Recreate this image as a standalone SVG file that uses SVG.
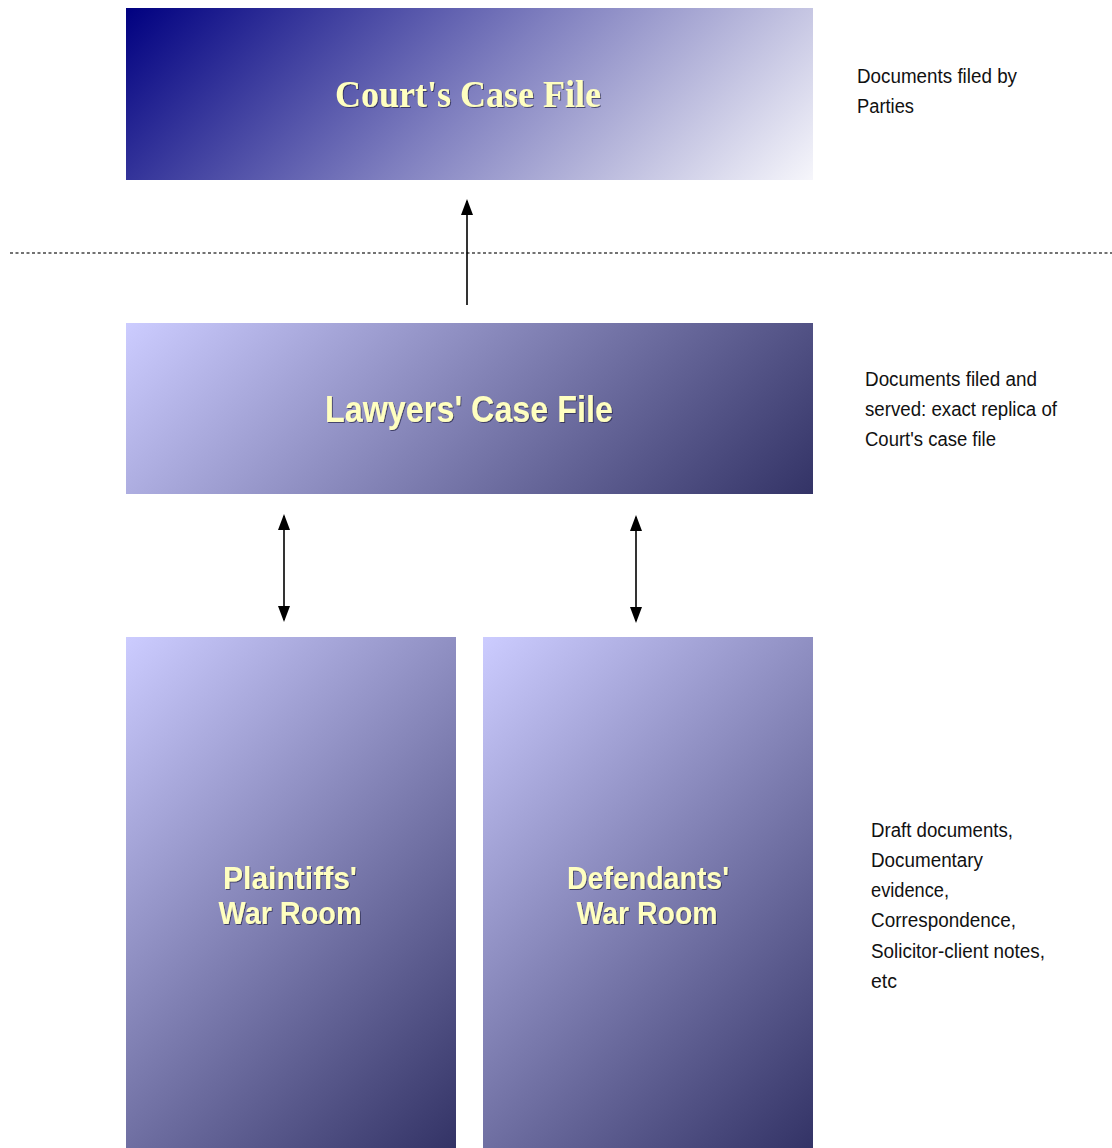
<svg xmlns="http://www.w3.org/2000/svg" width="1112" height="1148" viewBox="0 0 1112 1148">
<defs>
<linearGradient id="gCourt" gradientUnits="userSpaceOnUse" x1="126" y1="8" x2="555.5" y2="437.5">
<stop offset="0" stop-color="#000080"/>
<stop offset="0.5" stop-color="#7f7fbf"/>
<stop offset="1" stop-color="#f6f6fb"/>
</linearGradient>
<linearGradient id="gLawyers" gradientUnits="userSpaceOnUse" x1="126" y1="323" x2="555.5" y2="752.5">
<stop offset="0" stop-color="#ccccff"/>
<stop offset="1" stop-color="#333366"/>
</linearGradient>
<linearGradient id="gPlain" gradientUnits="userSpaceOnUse" x1="126" y1="637" x2="546.5" y2="1057.5">
<stop offset="0" stop-color="#ccccff"/>
<stop offset="1" stop-color="#333366"/>
</linearGradient>
<linearGradient id="gDef" gradientUnits="userSpaceOnUse" x1="483" y1="637" x2="903.5" y2="1057.5">
<stop offset="0" stop-color="#ccccff"/>
<stop offset="1" stop-color="#333366"/>
</linearGradient>
<filter id="sh" x="-10%" y="-30%" width="120%" height="160%">
<feDropShadow dx="1" dy="1" stdDeviation="0.6" flood-color="#222244" flood-opacity="0.7"/>
</filter>
<marker id="ah" viewBox="0 0 16 12" refX="14" refY="6" markerWidth="16" markerHeight="12" markerUnits="userSpaceOnUse" orient="auto-start-reverse">
<path d="M0,0 L16,6 L0,12 Z" fill="#000"/>
</marker>
<style>
.title{font-weight:bold;fill:#ffffc0;text-anchor:middle;filter:url(#sh)}
.serif{font-family:"Liberation Serif","DejaVu Serif",serif}
.sans{font-family:"Liberation Sans","DejaVu Sans",sans-serif}
.note{font-family:"Liberation Sans",Arial,sans-serif;font-size:20px;fill:#111}
.conn{stroke:#000;stroke-width:1.6;fill:none}
</style>
</defs>
<g id="courts-case-file">
<rect x="126" y="8" width="687" height="172" fill="url(#gCourt)"/>
<text class="title serif" x="468" y="107" font-size="38" textLength="266" lengthAdjust="spacingAndGlyphs">Court's Case File</text>
</g>
<g id="lawyers-case-file">
<rect x="126" y="323" width="687" height="171" fill="url(#gLawyers)"/>
<text class="title sans" x="469" y="422" font-size="36" textLength="288" lengthAdjust="spacingAndGlyphs">Lawyers' Case File</text>
</g>
<g id="plaintiffs-war-room">
<rect x="126" y="637" width="330" height="511" fill="url(#gPlain)"/>
<text class="title sans" font-size="32"><tspan x="290" y="889" textLength="134" lengthAdjust="spacingAndGlyphs">Plaintiffs'</tspan><tspan x="290" y="924" textLength="143" lengthAdjust="spacingAndGlyphs">War Room</tspan></text>
</g>
<g id="defendants-war-room">
<rect x="483" y="637" width="330" height="511" fill="url(#gDef)"/>
<text class="title sans" font-size="32"><tspan x="648" y="889" textLength="162" lengthAdjust="spacingAndGlyphs">Defendants'</tspan><tspan x="647" y="924" textLength="141" lengthAdjust="spacingAndGlyphs">War Room</tspan></text>
</g>
<g id="notes">
<text class="note"><tspan x="857" y="83" textLength="160" lengthAdjust="spacingAndGlyphs">Documents filed by</tspan><tspan x="857" y="113" textLength="57" lengthAdjust="spacingAndGlyphs">Parties</tspan></text>
<text class="note"><tspan x="865" y="386" textLength="172" lengthAdjust="spacingAndGlyphs">Documents filed and</tspan><tspan x="865" y="416" textLength="192" lengthAdjust="spacingAndGlyphs">served: exact replica of</tspan><tspan x="865" y="446" textLength="131" lengthAdjust="spacingAndGlyphs">Court's case file</tspan></text>
<text class="note"><tspan x="871" y="837" textLength="142" lengthAdjust="spacingAndGlyphs">Draft documents,</tspan><tspan x="871" y="867" textLength="112" lengthAdjust="spacingAndGlyphs">Documentary</tspan><tspan x="871" y="897" textLength="78" lengthAdjust="spacingAndGlyphs">evidence,</tspan><tspan x="871" y="927" textLength="145" lengthAdjust="spacingAndGlyphs">Correspondence,</tspan><tspan x="871" y="958" textLength="174" lengthAdjust="spacingAndGlyphs">Solicitor-client notes,</tspan><tspan x="871" y="988" textLength="26" lengthAdjust="spacingAndGlyphs">etc</tspan></text>
</g>
<g id="connectors">
<line x1="10" y1="253" x2="1112" y2="253" stroke="#444" stroke-width="1.3" stroke-dasharray="3,2.5"/>
<line class="conn" x1="467" y1="305" x2="467" y2="201" marker-end="url(#ah)"/>
<line class="conn" x1="284" y1="516" x2="284" y2="620" marker-start="url(#ah)" marker-end="url(#ah)"/>
<line class="conn" x1="636" y1="517" x2="636" y2="621" marker-start="url(#ah)" marker-end="url(#ah)"/>
</g>
</svg>
